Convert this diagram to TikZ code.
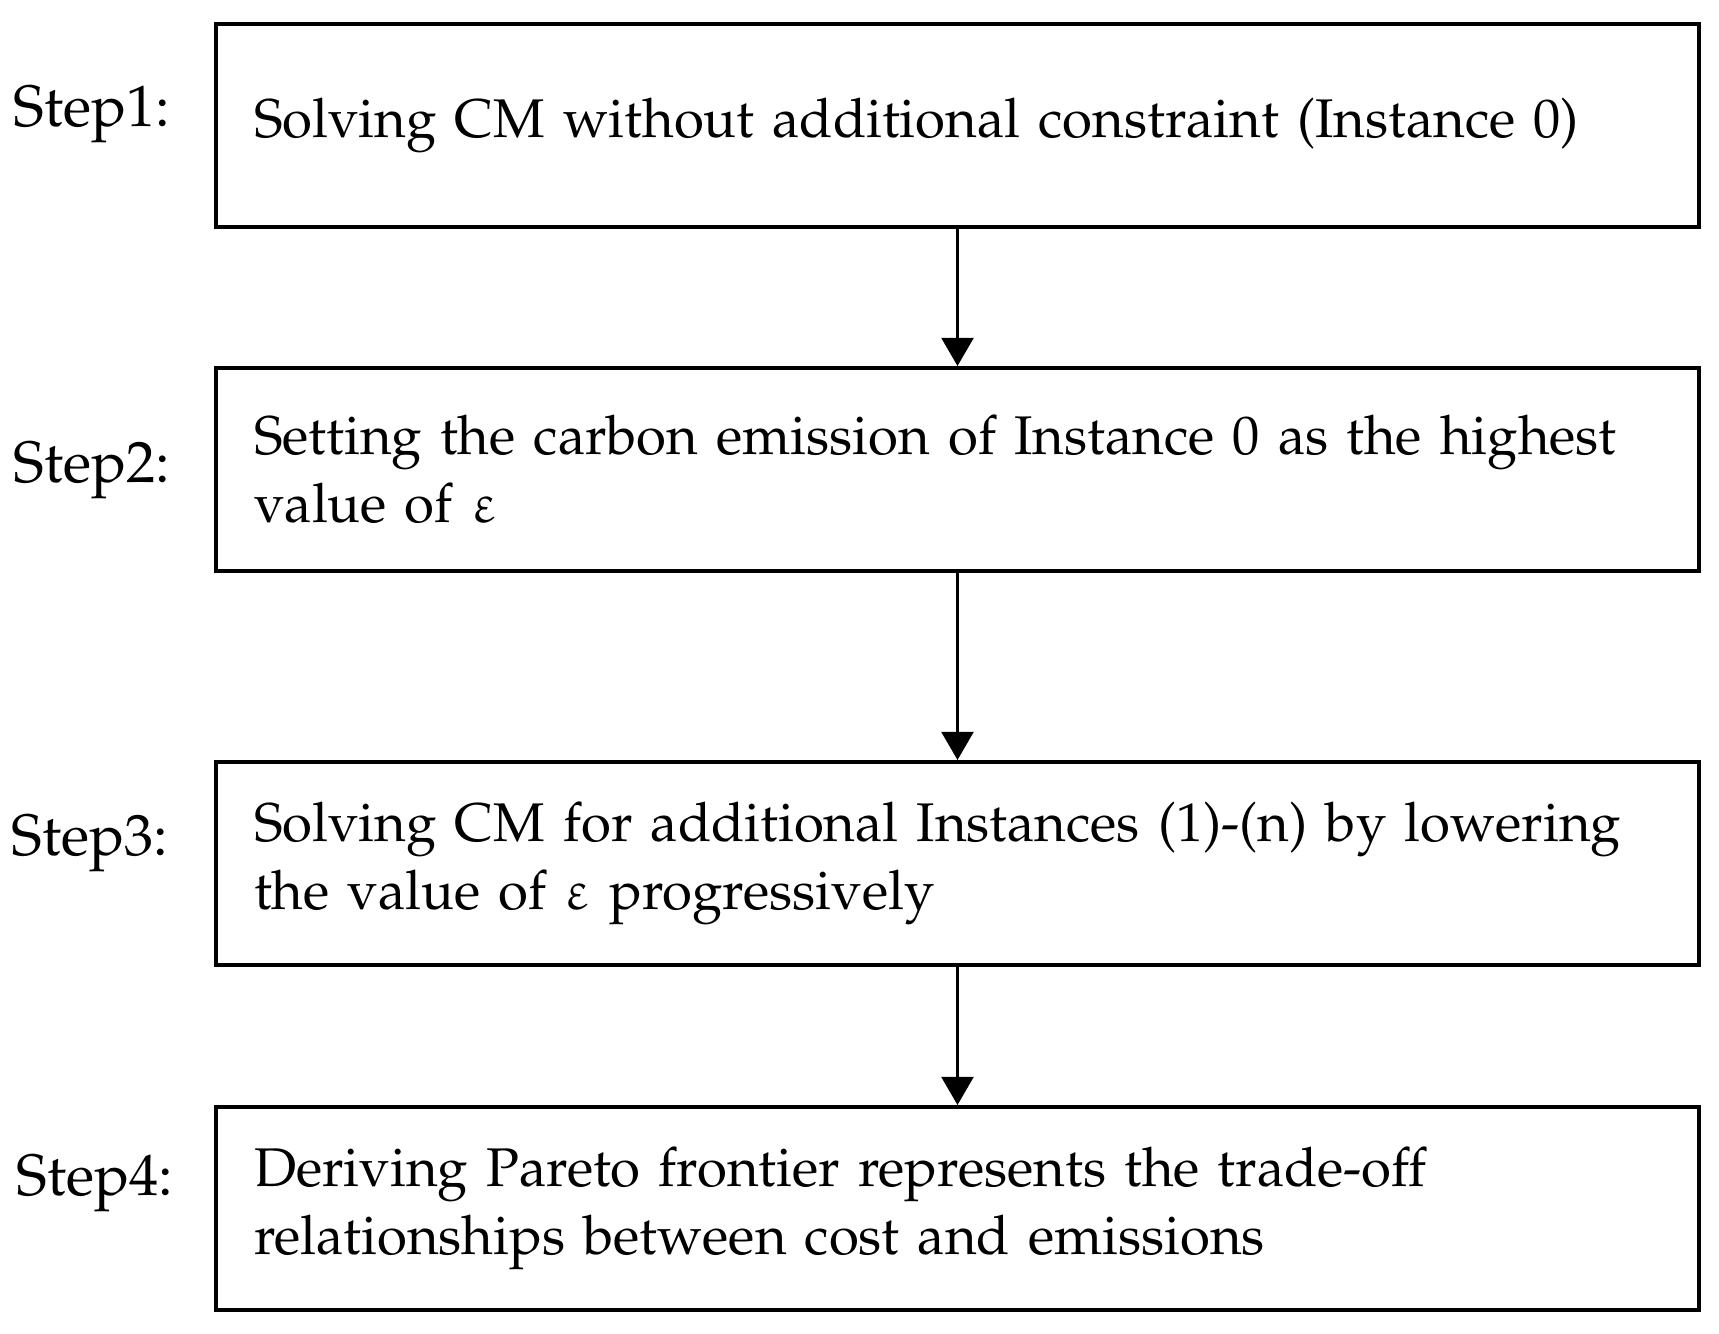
\documentclass[tikz,border=0pt]{standalone}
\usepackage[T1]{fontenc}
\usepackage{mathpazo}
\usepackage[Euler]{upgreek}
\usepackage{tikz}
\usetikzlibrary{arrows,arrows.meta,shapes,positioning}
\tikzstyle{flowarrow} = [line width=0.6pt,-{Triangle[width=3.2mm,length=2.8mm]},color=black]
\tikzstyle{stepbox} = [rectangle, draw=black, line width=1.15pt, minimum width=14.83cm, minimum height=2.03cm, text width=14.07cm, inner xsep=0.38cm, align=left, font=\fontsize{15.5}{19.3}\selectfont]
\tikzstyle{steplabel} = [anchor=west, inner sep=0pt, font=\fontsize{16.6}{19.3}\selectfont]

\begin{document}
\begin{tikzpicture}
\useasboundingbox (0,0) rectangle (17.19,-13.34);
% Boxes
\node[stepbox] (box1) at (9.575,-1.255) {Solving CM without additional constraint (Instance 0)};
\node[stepbox] (box2) at (9.575,-4.695) {Setting the carbon emission of Instance 0 as the highest\\value of $\upvarepsilon$};
\node[stepbox] (box3) at (9.575,-8.635) {Solving CM for additional Instances (1)-(n) by lowering\\the value of $\upvarepsilon$ progressively};
\node[stepbox] (box4) at (9.575,-12.085) {Deriving Pareto frontier represents the trade-off\\relationships between cost and emissions};

% Step labels
\node[steplabel] (lab1) at (0.13,-1.15) {Step1:};
\node[steplabel] (lab2) at (0.13,-4.71) {Step2:};
\node[steplabel] (lab3) at (0.11,-8.44) {Step3:};
\node[steplabel] (lab4) at (0.16,-11.84) {Step4:};

% Arrows
\draw[flowarrow] (box1) -- (box2);
\draw[flowarrow] (box2) -- (box3);
\draw[flowarrow] (box3) -- (box4);
\end{tikzpicture}
\end{document}
